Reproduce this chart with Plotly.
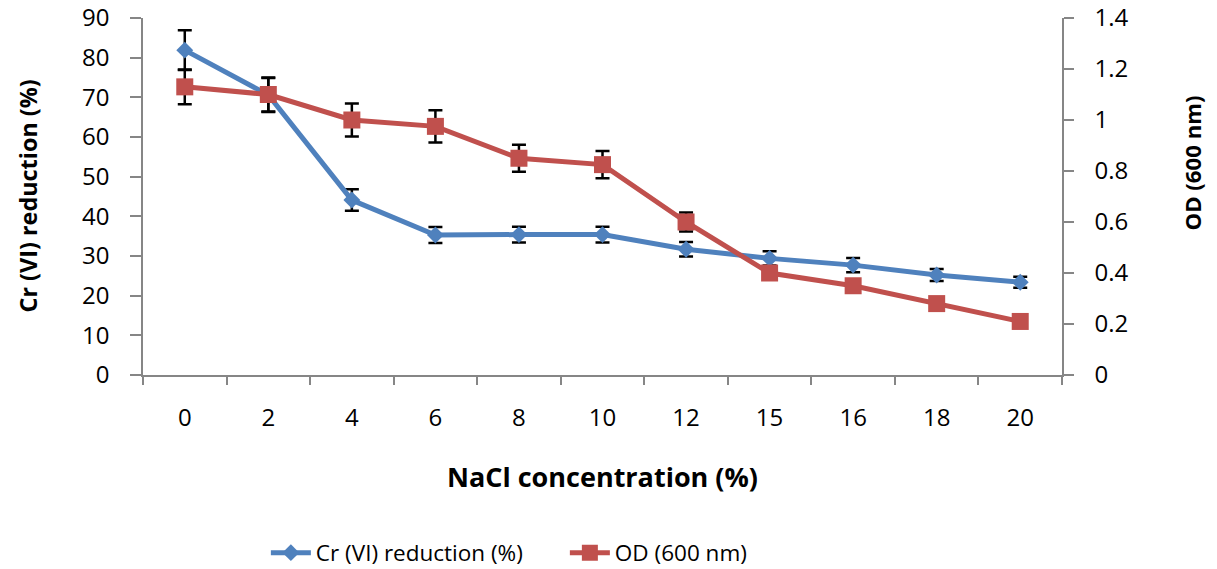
import plotly.graph_objects as go

nacl = ["0", "2", "4", "6", "8", "10", "12", "15", "16", "18", "20"]
cr_reduction = [81.9, 70.6, 44.1, 35.3, 35.4, 35.4, 31.7, 29.4, 27.7, 25.2, 23.4]
cr_err = [5.0, 4.3, 2.7, 2.0, 2.0, 2.0, 1.8, 1.8, 1.8, 1.5, 1.4]
od600 = [1.13, 1.10, 1.00, 0.975, 0.85, 0.825, 0.60, 0.40, 0.35, 0.28, 0.21]
od_err = [0.068, 0.067, 0.065, 0.063, 0.053, 0.053, 0.037, 0, 0, 0, 0]

left_ticks = list(range(0, 91, 10))
right_ticks = [0, 0.2, 0.4, 0.6, 0.8, 1.0, 1.2, 1.4]
right_labels = ["0", "0.2", "0.4", "0.6", "0.8", "1", "1.2", "1.4"]

BLUE = "#4F81BD"
RED = "#C0504D"
AXIS = "#868686"
FONT = "Open Sans"

fig = go.Figure()
fig.add_trace(go.Scatter(
    x=nacl, y=cr_reduction, name="Cr (VI) reduction (%)", mode="lines+markers",
    line=dict(color=BLUE, width=5),
    marker=dict(symbol="diamond", size=13, color=BLUE, line=dict(width=0)),
    error_y=dict(type="data", array=cr_err, visible=True, color="black", thickness=2.5, width=7),
    yaxis="y",
))
fig.add_trace(go.Scatter(
    x=nacl, y=od600, name="OD (600 nm)", mode="lines+markers",
    line=dict(color=RED, width=5),
    marker=dict(symbol="square", size=17, color=RED, line=dict(width=0)),
    error_y=dict(type="data", array=od_err, visible=True, color="black", thickness=2.5, width=7),
    yaxis="y2",
))

fig.update_layout(
    width=1217, height=569,
    margin=dict(l=143, r=155, t=18, b=194, autoexpand=False),
    paper_bgcolor="white", plot_bgcolor="white",
    font=dict(family=FONT, size=22, color="black"),
    showlegend=True,
    legend=dict(orientation="h", x=0.1337, xanchor="left", y=-0.4986, yanchor="middle",
                font=dict(family=FONT, size=22.5, color="black"), itemwidth=40,
                entrywidth=244, entrywidthmode="pixels"),
    xaxis=dict(type="category", showgrid=False, showline=True, linecolor=AXIS, linewidth=1.5,
               ticks="outside", tickson="boundaries", ticklen=8, tickcolor=AXIS, tickwidth=1.5,
               tickfont=dict(family=FONT, size=24), ticklabelstandoff=20, zeroline=False,
               range=[-0.5, 10.5]),
    yaxis=dict(range=[0, 90], tickvals=left_ticks, showgrid=False, showline=True, linecolor=AXIS,
               linewidth=1.5, ticks="outside", ticklen=11, tickcolor=AXIS, tickwidth=1.5,
               tickfont=dict(family=FONT, size=24), ticklabelstandoff=16, zeroline=False,
               ticklabeloverflow="allow"),
    yaxis2=dict(range=[0, 1.4], tickvals=right_ticks, ticktext=right_labels, overlaying="y",
                side="right", showgrid=False, showline=True, linecolor=AXIS, linewidth=1.5,
                ticks="outside", ticklen=10, tickcolor=AXIS, tickwidth=1.5,
                tickfont=dict(family=FONT, size=24), ticklabelstandoff=16, zeroline=False,
                ticklabeloverflow="allow"),
    annotations=[
        dict(text="<b>NaCl concentration (%)</b>", xref="paper", yref="paper", x=0.5, y=0,
             xanchor="center", yanchor="middle", yshift=-101, showarrow=False,
             font=dict(family=FONT, size=27)),
        dict(text="<b>Cr (VI) reduction (%)</b>", xref="paper", yref="paper", x=0, y=0.5,
             xanchor="center", yanchor="middle", xshift=-116, textangle=-90, showarrow=False,
             font=dict(family=FONT, size=23.4)),
        dict(text="<b>OD (600 nm)</b>", xref="paper", yref="paper", x=1, y=0.5,
             xanchor="center", yanchor="middle", xshift=130, yshift=33, textangle=-90,
             showarrow=False, font=dict(family=FONT, size=22.2)),
    ],
)

# remove the browser's default 8px body margin so the figure sits at the page origin
fig.write_html("out.html", config={"displayModeBar": False},
               post_script="document.body.style.margin='0px';")
